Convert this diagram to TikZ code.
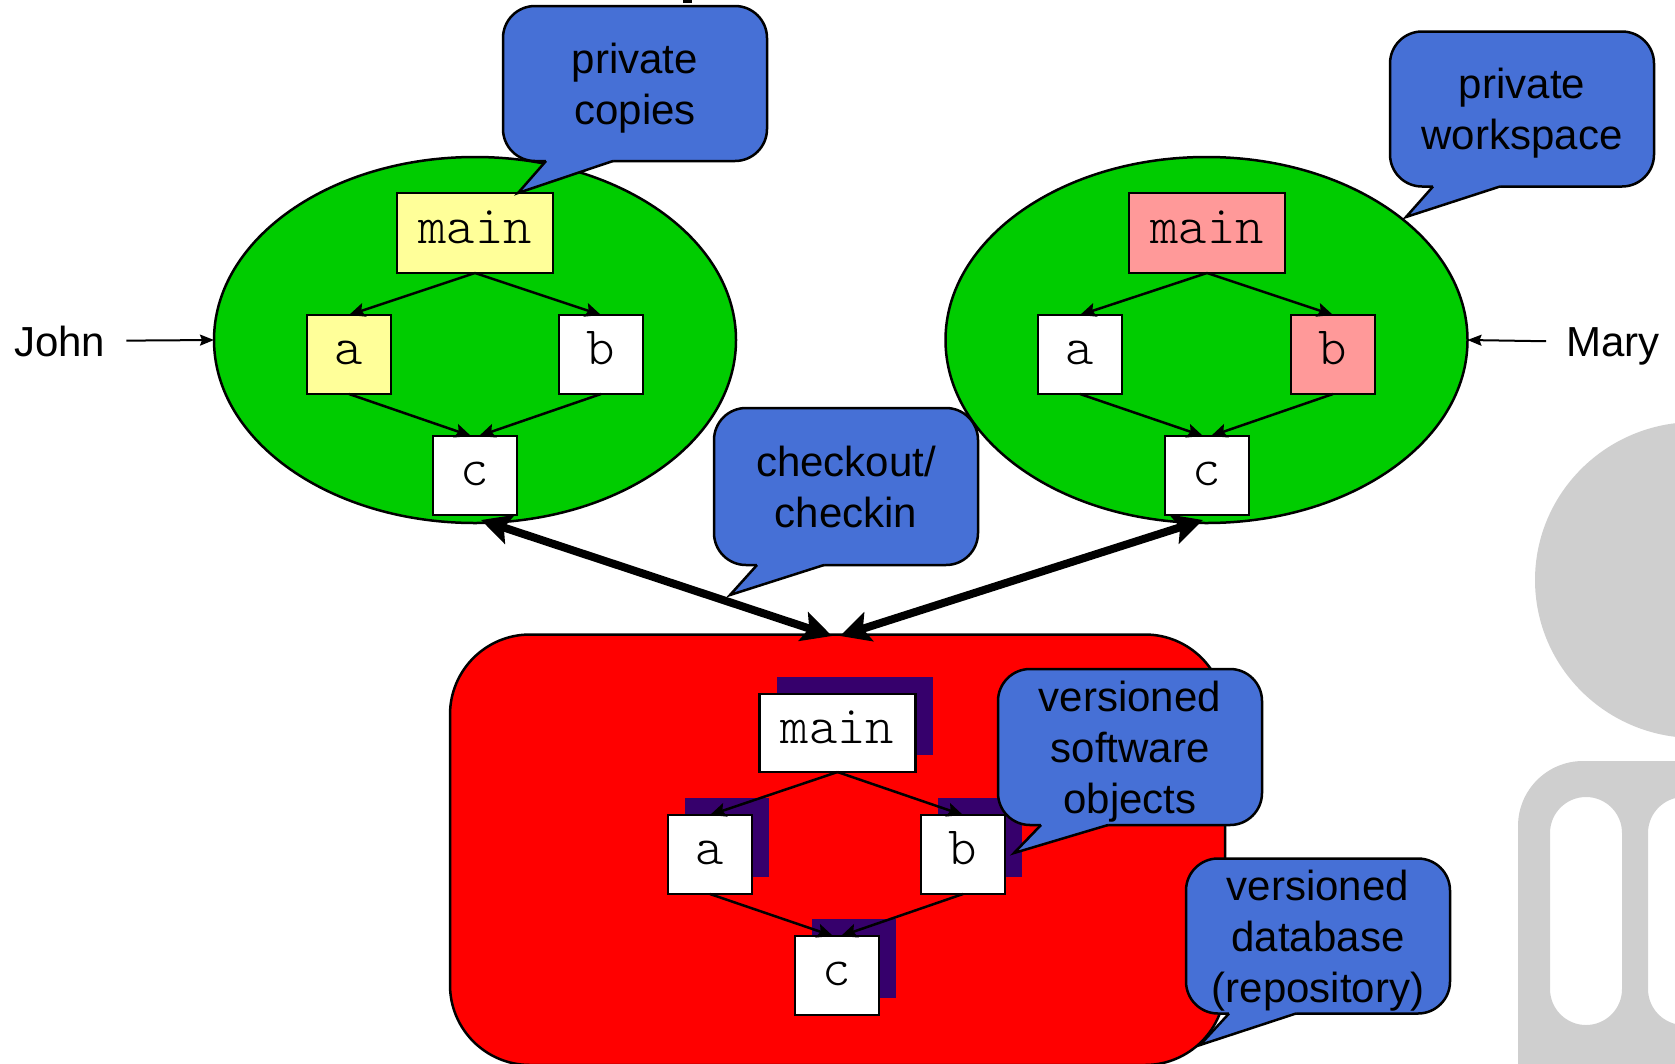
\documentclass[tikz,border=0pt]{standalone}
\usepackage{fontspec}
\setmainfont{Liberation Sans}
\newfontfamily\monolight{lmmonolt10-regular.otf}
\usetikzlibrary{arrows.meta,shapes.geometric,shadows,calc}
\definecolor{wsgreen}{RGB}{0,204,0}
\definecolor{callblue}{RGB}{70,112,214}
\definecolor{repored}{RGB}{255,0,0}
\definecolor{jyellow}{RGB}{255,255,153}
\definecolor{mpink}{RGB}{255,153,153}
\definecolor{shadowc}{RGB}{54,0,108}
\definecolor{wmgray}{RGB}{207,207,207}
\newcommand\calloutptr[2]{%
  \fill[callblue] ($(#1.south west)+(43,-3)$) -- ($(#1.south west)+(43,0)$) -- (#2) -- ($(#1.south west)+(110,0)$) -- ($(#1.south west)+(110,-3)$) -- cycle;
  \draw[line width=2.5pt,line join=miter] ($(#1.south west)+(43,0)$) -- (#2) -- ($(#1.south west)+(110,0)$);
}
\begin{document}
\begin{tikzpicture}[x=1pt,y=-1pt,
  box/.style={draw,line width=2.5pt,fill=white,inner sep=0pt,outer sep=0pt,minimum width=84pt,minimum height=79pt,font=\monolight\fontsize{54}{54}\selectfont,text height=20pt,text depth=0pt},
  wide/.style={minimum width=156pt,minimum height=80pt},
  ws/.style={ellipse,draw,line width=2.5pt,fill=wsgreen,minimum width=522pt,minimum height=366pt,inner sep=0pt,outer sep=0pt},
  callbox/.style={draw,line width=2.5pt,fill=callblue,rounded corners=32pt,minimum width=264pt,minimum height=155pt,inner sep=0pt,outer sep=0pt,align=center,text depth=0pt,font=\fontsize{42}{51}\selectfont},
  link/.style={line width=2.5pt,-{Stealth[length=16pt,width=14pt,inset=3pt]}},
  big/.style={line width=8pt,{Stealth[length=30pt,width=30pt,inset=6pt]}-{Stealth[length=30pt,width=30pt,inset=6pt]}},
  who/.style={font=\fontsize{42}{50}\selectfont,inner sep=0pt,text depth=0pt},
  namearrow/.style={line width=2pt,-{Stealth[length=14pt,width=11pt,inset=2pt]}},
  shadowed/.style={drop shadow={shadow xshift=17pt,shadow yshift=17pt,opacity=1,fill=shadowc}}
]
\useasboundingbox (0,0) rectangle (1675,1063);
\clip (0,0) rectangle (1675,1063);

% watermark
\fill[wmgray] (1695,580) ellipse [x radius=160pt,y radius=158pt];
\fill[wmgray,even odd rule] [rounded corners=65pt] (1518,761) rectangle (1820,1160)
  [rounded corners=36pt] (1550,797) rectangle (1622,1025) (1648,797) rectangle (1720,1025);

% cut-off title fragment
\fill (683,0) rectangle (692,2.5);

% workspaces and repository
\node[ws] (jws) at (475,340) {};
\node[ws] (mws) at (1206.5,340) {};
\node[draw,line width=2.5pt,fill=repored,rounded corners=80pt,minimum width=775pt,minimum height=430.5pt,inner sep=0pt,outer sep=0pt] (repo) at (837.5,849.75) {};

% John
\node[box,wide,fill=jyellow] (jmain) at (475,233) {main};
\node[box,fill=jyellow] (ja) at (349,354.5) {a};
\node[box] (jb) at (601,354.5) {b};
\node[box] (jc) at (475,475.5) {c};
\draw[link] (jmain.south) -- (ja.north);
\draw[link] (jmain.south) -- (jb.north);
\draw[link] (ja.south) -- ([xshift=-4pt]jc.north);
\draw[link] (jb.south) -- ([xshift=4pt]jc.north);

% Mary
\node[box,wide,fill=mpink] (mmain) at (1207,233) {main};
\node[box] (ma) at (1080,354.5) {a};
\node[box,fill=mpink] (mb) at (1333,354.5) {b};
\node[box] (mc) at (1207,475.5) {c};
\draw[link] (mmain.south) -- (ma.north);
\draw[link] (mmain.south) -- (mb.north);
\draw[link] (ma.south) -- ([xshift=-4pt]mc.north);
\draw[link] (mb.south) -- ([xshift=4pt]mc.north);

% Repository
\node[box,wide,minimum height=78pt,shadowed] (rmain) at (837.5,733) {main};
\node[box,shadowed] (ra) at (710,854.5) {a};
\node[box,shadowed] (rb) at (963,854.5) {b};
\node[box,shadowed] (rc) at (837,975.5) {c};
\draw[link] (rmain.south) -- (ra.north);
\draw[link] (rmain.south) -- (rb.north);
\draw[link] (ra.south) -- ([xshift=-4pt]rc.north);
\draw[link] (rb.south) -- ([xshift=4pt]rc.north);

% names
\node[who,anchor=base west] (john) at (14,356) {John};
\node[who,anchor=base west] (mary) at (1566,356) {Mary};
\draw[namearrow,shorten <=21pt] (john.east) -- (jws.west);
\draw[namearrow,shorten <=20pt] (mary.west) -- (mws.east);

% callouts
\node[callbox] (cp) at (635,83.5) {private\\copies};
\coordinate (cptip) at (518,193);
\calloutptr{cp}{cptip}
\node[callbox] (pw) at (1522,109) {private\\workspace};
\coordinate (pwtip) at (1406,217);
\calloutptr{pw}{pwtip}
\node[callbox,minimum height=157pt] (cc) at (846,486.5) {checkout/\\checkin};
\coordinate (cctip) at (730,595);
\calloutptr{cc}{cctip}
\node[callbox,minimum height=156pt] (vso) at (1130,747) {versioned\\software\\objects};
\coordinate (vsotip) at (1014,853);
\calloutptr{vso}{vsotip}
\node[callbox] (vdb) at (1318,936) {versioned\\database\\(repository)};
\coordinate (vdbtip) at (1200,1045);
\calloutptr{vdb}{vdbtip}

% checkout/checkin arrows
\coordinate (jend) at ($(jc.south)+(6,5)$);
\coordinate (mend) at ($(mc.south)+(-4,5)$);
\coordinate (rjend) at ($(repo.north)+(-5.5,1.5)$);
\coordinate (rmend) at ($(repo.north)+(2.5,1.5)$);
\draw[big] (jend) -- (rjend);
\draw[big] (mend) -- (rmend);
\end{tikzpicture}
\end{document}
